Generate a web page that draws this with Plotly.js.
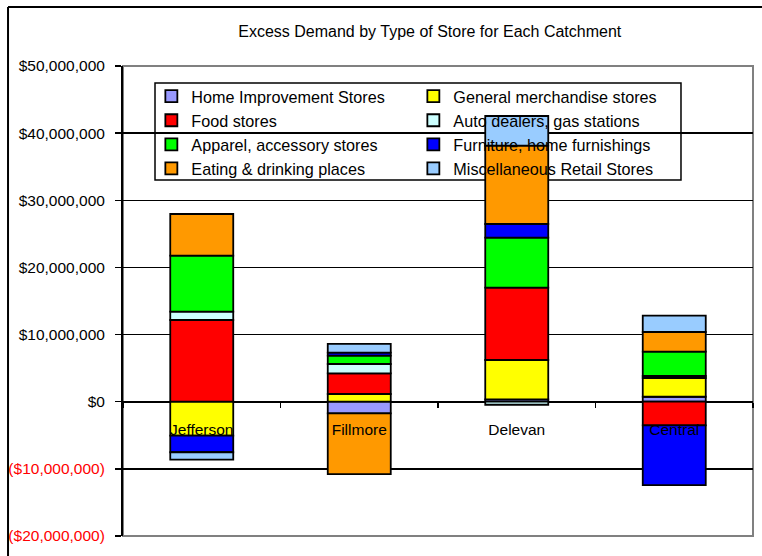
<!DOCTYPE html>
<html>
<head>
<meta charset="utf-8">
<script src="https://cdn.plot.ly/plotly-3.0.1.min.js"></script>
<style>html,body{margin:0;padding:0;background:#fff;}#chart{width:762px;height:556px;}</style>
</head>
<body>
<div id="chart"></div>
<script>
// Data (values in dollars)
var categories = ["Jefferson", "Fillmore", "Delevan", "Central"];
var seriesNames = [
  "Home Improvement Stores", "General merchandise stores",
  "Food stores", "Auto dealers, gas stations",
  "Apparel, accessory stores", "Furniture, home furnishings",
  "Eating & drinking places", "Miscellaneous Retail Stores"
];
var homeImprovement = [0, -1730000, 360000, 740000];
var generalMerch    = [-5060000, 1150000, 5850000, 2790000];
var foodStores      = [12170000, 3080000, 10770000, -3520000];
var autoDealers     = [1240000, 1390000, -450000, 300000];
var apparel         = [8340000, 1240000, 7450000, 3620000];
var furniture       = [-2470000, 450000, 2040000, -8890000];
var eatingDrinking  = [6210000, -9040000, 11660000, 2930000];
var miscRetail      = [-1100000, 1300000, 4420000, 2430000];
var seriesValues = [homeImprovement, generalMerch, foodStores, autoDealers,
                    apparel, furniture, eatingDrinking, miscRetail];
var seriesColors = ["#9999FF", "#FFFF00", "#FF0000", "#CCFFFF",
                    "#00FF00", "#0000FF", "#FF9900", "#99CCFF"];
var tickValues = [-20000000, -10000000, 0, 10000000, 20000000, 30000000, 40000000, 50000000];
var tickLabels = ["($20,000,000)", "($10,000,000)", "$0", "$10,000,000",
                  "$20,000,000", "$30,000,000", "$40,000,000", "$50,000,000"];

var yMin = -20000000, yMax = 50000000;

var traces = seriesNames.map(function (name, i) {
  return {
    type: "bar",
    name: name,
    x: categories,
    y: seriesValues[i],
    width: 0.4,
    marker: { color: seriesColors[i], line: { color: "#000", width: 1.8 } },
    hoverinfo: "skip"
  };
});

var tickText = tickLabels.map(function (t, i) {
  return tickValues[i] < 0 ? '<span style="color:#FF0000">' + t + '</span>' : t;
});

var layout = {
  width: 762, height: 556,
  margin: { l: 123, r: 9, t: 66, b: 20 },
  paper_bgcolor: "#fff", plot_bgcolor: "#fff",
  barmode: "relative",
  showlegend: true,
  font: { family: "Liberation Sans, Arial, sans-serif", color: "#000" },
  title: {
    text: "Excess Demand by Type of Store for Each Catchment",
    font: { size: 16, color: "#000" },
    x: 0.564, xanchor: "center", xref: "container",
    y: 0.944, yanchor: "middle", yref: "container"
  },
  xaxis: {
    type: "category",
    anchor: "free",
    position: (0 - yMin) / (yMax - yMin),
    showline: false, showgrid: false, zeroline: false,
    ticks: "outside", ticklen: 5, tickwidth: 1.5, tickcolor: "#000",
    tickson: "boundaries",
    ticklabelstandoff: 17,
    tickfont: { size: 15.5, color: "#000" },
    range: [-0.5, 3.5]
  },
  yaxis: {
    range: [yMin, yMax],
    tickvals: tickValues, ticktext: tickText,
    tickfont: { size: 15.5, color: "#000" },
    ticks: "outside", ticklen: 6, tickwidth: 1.5, tickcolor: "#000",
    ticklabelstandoff: 7,
    showline: true, linecolor: "#000", linewidth: 2,
    showgrid: true, gridcolor: "#000", gridwidth: 1.3,
    zeroline: true, zerolinecolor: "#000", zerolinewidth: 2
  },
  legend: {
    orientation: "h",
    traceorder: "normal",
    x: 0.045, xanchor: "left",
    y: 0.972, yanchor: "top",
    bgcolor: "rgba(0,0,0,0)", borderwidth: 0,
    entrywidth: 217,
    font: { size: 16.2, color: "#000" }
  },
  shapes: [
    { type: "rect", xref: "paper", yref: "paper", x0: 0, x1: 1, y0: 0, y1: 1,
      line: { color: "#808080", width: 2 }, fillcolor: "rgba(0,0,0,0)", layer: "between" },
    { type: "rect", xref: "paper", yref: "paper", x0: 0.0508, x1: 0.8857, y0: 0.7574, y1: 0.9638,
      line: { color: "#000", width: 1.5 }, fillcolor: "#fff", layer: "between" },
    { type: "line", xref: "paper", yref: "paper", x0: -0.1825, x1: 1.2, y0: 1.1255, y1: 1.1255,
      line: { color: "#000", width: 2 } },
    { type: "line", xref: "paper", yref: "paper", x0: -0.1825, x1: -0.1825, y0: 1.1255, y1: -0.2,
      line: { color: "#000", width: 2 } }
  ]
};

Plotly.newPlot("chart", traces, layout, { displayModeBar: false, staticPlot: true });
</script>
</body>
</html>
